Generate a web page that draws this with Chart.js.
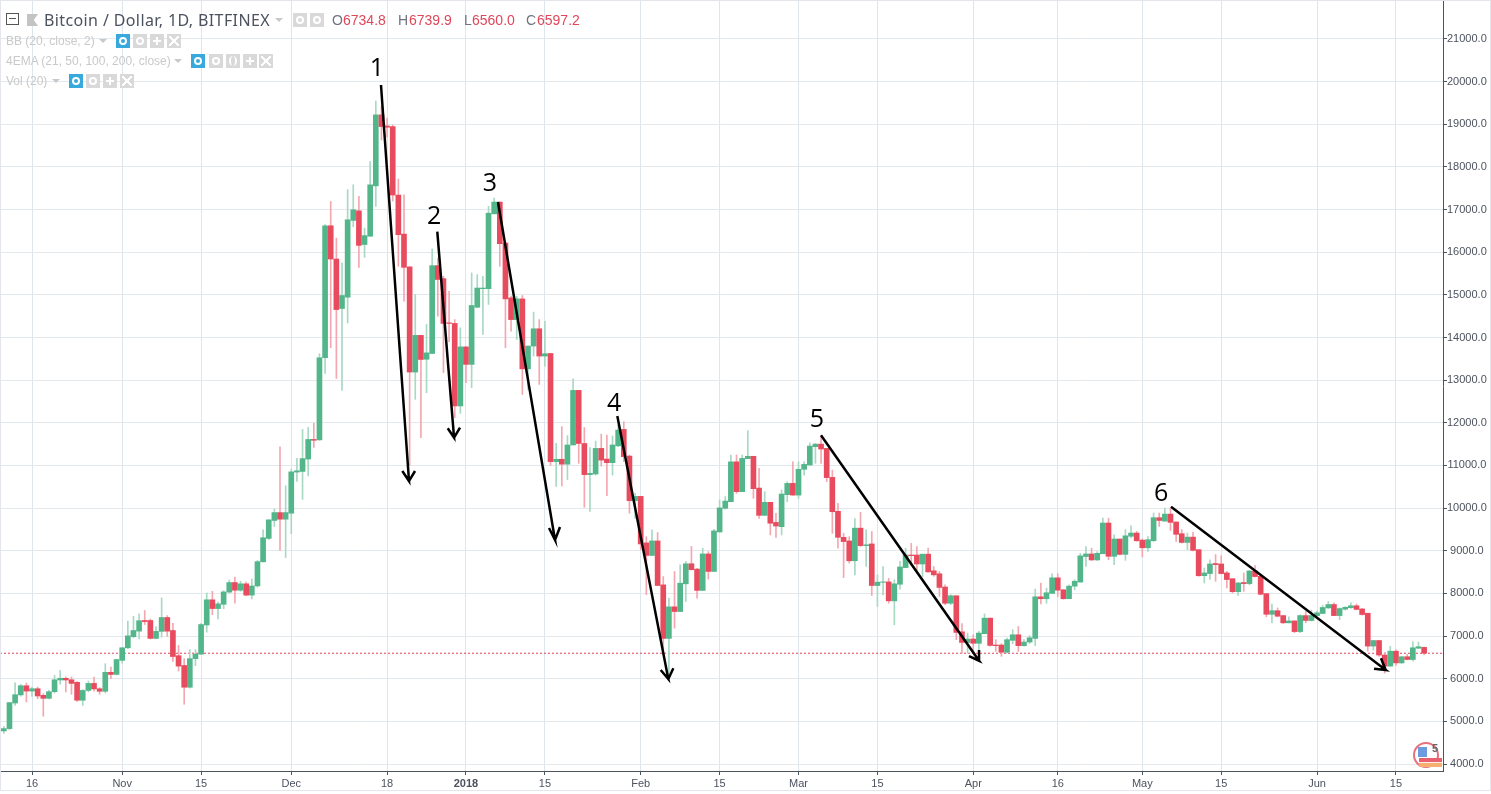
<!DOCTYPE html>
<html lang="en">
<head>
<meta charset="UTF-8" />
<title>Bitcoin / Dollar, 1D, BITFINEX</title>
<script src="https://cdn.jsdelivr.net/npm/chart.js"></script>
<style>
*, *::after { box-sizing: border-box; }
body { margin: 0; background: #fff; font-family: 'Liberation Sans', sans-serif; overflow: hidden; }
#wrap { position: relative; width: 1491px; height: 794px; }
#frame { position: absolute; left: 0; top: 0; width: 1491px; height: 791px; border: 1px solid #e3e6ea; pointer-events: none; }
canvas { position: absolute; left: 0; top: 0; }
.t { position: absolute; white-space: nowrap; line-height: 16px; }
.main { font-size: 16px; color: #4c525e; top: 12px; left: 44px; font-family: 'Noto Sans', sans-serif; letter-spacing: .38px; }
.lbl { font-size: 14px; color: #6f7480; top: 12px; }
.val { font-size: 14px; color: #e0475a; top: 12px; }
.ind { font-size: 12px; color: #c9c9c9; left: 6px; }
.ic { position: absolute; width: 14px; height: 14px; background: #d9d9d9; }
.ic.blue { background: #38a9dc; }
.ic.blue::after { content: ''; position: absolute; left: 3px; top: 3px; width: 8px; height: 8px; border: 2px solid #fff; border-radius: 50%; }
.ic.gear::after { content: ''; position: absolute; left: 3px; top: 3px; width: 8px; height: 8px; border: 2px solid #fff; border-radius: 50%; }
.ic.plus { background: linear-gradient(#fff,#fff) center/8px 2px no-repeat, linear-gradient(#fff,#fff) center/2px 8px no-repeat, #d9d9d9; }
.ic.cross::after { content: ''; position: absolute; left: 2px; top: 2px; width: 10px; height: 10px;
  background: linear-gradient(45deg, transparent 42%, #fff 42%, #fff 58%, transparent 58%), linear-gradient(-45deg, transparent 42%, #fff 42%, #fff 58%, transparent 58%); }
.ic.paren::after { content: ''; position: absolute; left: 3px; top: 2px; width: 8px; height: 10px; border-left: 2px solid #fff; border-right: 2px solid #fff; border-radius: 50%; }
.caret { position: absolute; width: 0; height: 0; border-left: 4px solid transparent; border-right: 4px solid transparent; border-top: 4px solid #c9c9c9; }
#minus { position: absolute; left: 6px; top: 13px; width: 13px; height: 12px; border: 1px solid #555; }
#minus::after { content: ''; position: absolute; left: 2px; right: 2px; top: 4px; height: 1px; background: #555; }
#flag { position: absolute; left: 27px; top: 14px; width: 11px; height: 12px; background: #c4c4c4; clip-path: polygon(0 0, 100% 0, 62% 50%, 100% 100%, 0 100%); }
#logo { position: absolute; left: 1413px; top: 742px; width: 29px; height: 26px; overflow: hidden; }
#logo .ring { position: absolute; left: 0; top: 0; width: 26px; height: 26px; border: 2px solid #e8707c; border-radius: 50%; }
#logo .blue { position: absolute; left: 5px; top: 5px; width: 9px; height: 10px; background: #6d9be0; }
#logo .stripe { position: absolute; left: 6px; top: 16px; width: 23px; height: 9px; background: linear-gradient(#e8606e 45%, #fbeee6 45%, #fbeee6 60%, #f5b070 60%); }
#logo .five { position: absolute; left: 19px; top: 1px; font-size: 11px; font-weight: bold; color: #666; line-height: 11px; }
</style>
</head>
<body>
<div id="wrap">
  <canvas id="priceChart" width="1491" height="794"></canvas>
  <div id="frame"></div>
  <div id="minus"></div><div id="flag"></div>
  <div class="t main">Bitcoin / Dollar, 1D, BITFINEX</div>
  <div class="caret" style="left:275px;top:18px"></div>
  <div class="ic gear" style="left:293px;top:13px"></div><div class="ic gear" style="left:310px;top:13px"></div>
  <div class="t lbl" style="left:332px">O</div><div class="t val" style="left:343px">6734.8</div>
  <div class="t lbl" style="left:398px">H</div><div class="t val" style="left:409px">6739.9</div>
  <div class="t lbl" style="left:464px">L</div><div class="t val" style="left:472px">6560.0</div>
  <div class="t lbl" style="left:526px">C</div><div class="t val" style="left:537px">6597.2</div>

  <div class="t ind" style="top:33px">BB (20, close, 2)</div>
  <div class="caret" style="left:99px;top:39px"></div>
  <div class="ic blue" style="left:116px;top:34px"></div><div class="ic gear" style="left:133px;top:34px"></div>
  <div class="ic plus" style="left:150px;top:34px"></div><div class="ic cross" style="left:167px;top:34px"></div>

  <div class="t ind" style="top:53px">4EMA (21, 50, 100, 200, close)</div>
  <div class="caret" style="left:174px;top:59px"></div>
  <div class="ic blue" style="left:191px;top:54px"></div><div class="ic gear" style="left:209px;top:54px"></div>
  <div class="ic paren" style="left:226px;top:54px"></div><div class="ic plus" style="left:243px;top:54px"></div><div class="ic cross" style="left:259px;top:54px"></div>

  <div class="t ind" style="top:73px">Vol (20)</div>
  <div class="caret" style="left:52px;top:79px"></div>
  <div class="ic blue" style="left:69px;top:74px"></div><div class="ic gear" style="left:86px;top:74px"></div>
  <div class="ic plus" style="left:103px;top:74px"></div><div class="ic cross" style="left:120px;top:74px"></div>

  <div id="logo"><div class="ring"></div><div class="blue"></div><div class="stripe"></div><div class="five">5</div></div>
</div>

<script>
// daily candles, first one is 5 days before the "16" tick (Oct 16 = day 0)
const firstDay = -5;
const opens = [
4775,4830,5430,5620,5835,5710,5765,5610,5540,5695,
5970,6010,5975,5915,5495,5725,5890,5765,5705,6150,
6100,6430,6725,6985,7115,7365,7365,6945,7110,7435,
7130,6540,6310,5800,6470,6575,7260,7850,7645,7745,
8030,8255,8075,8225,7960,8175,8740,9290,9710,9895,
9740,9880,10845,10860,11150,11610,11600,13525,16620,15840,
14680,14945,16745,16970,16180,16375,17555,19220,18960,18945,
17340,16425,15655,13190,14050,13490,13625,15685,15380,14345,
14330,12395,13780,13370,14710,15145,15145,16900,17175,16215,
14930,14420,14905,13265,13800,14205,13565,13625,11090,11145,
11030,11480,12760,11515,10785,10800,11400,11150,11065,11460,
11845,11220,10175,10275,9185,8890,9230,8200,6945,7685,
7575,8225,8695,8570,8070,8925,8515,9440,9995,10150,
11085,10385,11160,11215,10470,9830,10135,9665,9565,10315,
10580,10305,10910,11010,11440,11500,11400,10720,9925,9315,
9230,8765,9530,9120,9160,8185,8260,8270,7825,8215,
8605,8900,8900,8690,8920,8530,8460,8150,7770,7945,
7100,6850,6930,6830,7055,7420,6790,6790,6620,6900,
7030,6775,6860,6945,7920,7875,8000,8365,8085,7875,
8170,8265,8865,8925,8785,8930,9650,8870,9275,8915,
9340,9415,9250,9070,9235,9775,9695,9860,9675,9400,
9195,9320,9025,8415,8465,8700,8690,8480,8345,8040,
8255,8230,8525,8400,7995,7510,7595,7480,7310,7355,
7105,7480,7365,7480,7530,7660,7740,7480,7630,7665,
7710,7635,7535,6765,6895,6555,6295,6645,6370,6515,
6450,6715,6734.8];
const highs = [
4880,5440,5905,5870,5900,5805,5805,5650,5725,6080,
6195,6040,6040,5930,5745,5945,6040,5790,6350,6270,
6460,6730,7350,7465,7520,7600,7400,7225,7895,7480,
7300,6780,6470,6680,6680,7300,8010,8050,7795,8065,
8315,8380,8285,8265,8340,8770,9490,9725,9980,11435,
10525,10915,11170,11845,11890,11990,13620,16645,17190,16330,
15750,17465,17580,17310,16565,18125,19545,19415,19140,18985,
17715,17345,15670,15005,14050,14305,16075,15860,15435,15080,
14420,14225,13780,15515,15475,15435,17075,17270,17175,16215,
14970,14970,14985,13800,14595,14420,14380,13625,11520,11910,
11700,13030,12760,11890,11420,11570,11735,11710,11690,11945,
12025,11245,10345,10275,9330,9490,9425,8395,7890,8515,
8670,8750,9100,8590,9060,8980,9505,10190,10270,11245,
11245,11245,11815,11215,10930,10385,10135,9880,10425,10620,
11085,11085,11085,11530,11515,11690,11400,10890,10110,9410,
9330,9755,9900,9490,9450,8435,8630,8355,8320,8750,
9060,9175,9095,8920,9060,8630,8515,8200,7970,7945,
7290,7070,7030,7110,7520,7420,6915,6820,6955,7150,
7225,6915,7010,8100,8240,8125,8460,8460,8085,8200,
8320,8940,9100,9060,8980,9765,9765,9375,9275,9495,
9585,9455,9275,9335,9885,9885,10000,10000,9675,9495,
9415,9430,9025,8595,8790,8910,8885,8520,8345,8260,
8480,8540,8650,8400,7995,7750,7660,7480,7450,7355,
7500,7580,7610,7585,7715,7810,7780,7660,7690,7780,
7750,7650,7535,6900,6900,6610,6760,6680,6520,6570,
6865,6860,6739.9];
const lows = [
4720,4800,5375,5590,5455,5585,5530,5120,5525,5665,
5870,5690,5635,5470,5375,5690,5710,5635,5665,6000,
6090,6365,6700,6960,6935,7270,6930,6930,6975,6990,
6405,6180,5400,5780,6305,6570,7090,7500,7400,7640,
8005,7770,8050,7945,7870,8145,8740,9260,9570,9010,
8840,9400,10625,10205,10755,11420,11590,13160,13760,13040,
12760,14340,16600,15645,15880,16375,17075,18630,18700,17200,
15670,14850,11000,12550,11650,12705,13625,14500,13175,13900,
12120,12220,12940,12825,14695,14070,14775,16900,15670,13760,
14150,13955,12665,12780,13565,12900,13330,11000,10510,10520,
10670,11480,11050,10020,9920,10775,10985,10290,10775,11440,
11090,9880,9760,9020,7970,8890,8185,6560,6055,7185,
7575,7810,8555,7890,8070,8335,8515,9440,9975,10150,
10345,10385,11160,10230,9760,9830,9370,9315,9370,10150,
10305,10230,10775,11010,11050,11050,10620,9410,9060,8370,
8710,8435,9100,8630,7950,7695,7965,7770,7265,8100,
8605,8650,8475,8395,8490,8400,7930,7735,7735,6915,
6600,6600,6640,6600,7055,6760,6640,6525,6605,6820,
6640,6760,6825,6775,7755,7770,8000,7925,7865,7875,
8085,8265,8630,8770,8770,8930,8790,8675,8900,8775,
9300,9220,8855,8985,9220,9570,9695,9475,9220,9180,
9025,8995,8400,8245,8325,8285,8455,8130,8010,7950,
8050,8200,8385,7965,7450,7310,7450,7295,7310,7080,
7080,7310,7350,7465,7530,7645,7480,7385,7610,7650,
7615,7490,6650,6670,6520,6130,6295,6310,6360,6440,
6410,6710,6560];
const closes = [
4830,5440,5625,5835,5710,5765,5595,5540,5695,5975,
6010,5970,5890,5495,5725,5890,5760,5705,6150,6100,
6450,6725,7005,7130,7360,7340,6945,7110,7435,7115,
6520,6295,5800,6470,6575,7270,7850,7645,7755,8035,
8255,8075,8225,7960,8175,8745,9305,9725,9895,9740,
9895,10850,10875,11160,11610,11590,13525,16620,15840,14655,
14985,16760,16995,16160,16390,17580,19220,18945,18930,17340,
16410,15645,13190,14050,13485,13640,15685,15360,14330,14330,
12395,13780,13370,14750,15160,15160,16915,17175,16200,14905,
14420,14905,13265,13800,14205,13565,13620,11090,11145,11030,
11480,12760,11515,10785,10815,11400,11125,11065,11480,11830,
11205,10175,10275,9160,8890,9230,8185,6945,7685,7575,
8240,8695,8555,8070,8925,8515,9465,10005,10165,11085,
10385,11165,11215,10455,9830,10135,9645,9580,10330,10580,
10305,10910,11025,11455,11500,11385,10715,9915,9315,9215,
8765,9530,9120,9140,8185,8265,8270,7825,8225,8620,
8900,8885,8690,8920,8505,8435,8140,7770,7945,7085,
6850,6930,6830,7070,7420,6780,6775,6620,6915,7030,
6775,6860,6960,7920,7875,8015,8365,8075,7875,8170,
8285,8880,8925,8785,8940,9650,8870,9275,8915,9350,
9415,9235,9070,9260,9775,9710,9860,9665,9385,9195,
9320,9010,8415,8480,8690,8675,8465,8325,8040,8245,
8230,8525,8395,7980,7510,7595,7465,7310,7355,7105,
7480,7365,7480,7545,7670,7740,7480,7645,7675,7710,
7625,7505,6765,6895,6555,6295,6645,6370,6515,6450,
6725,6750,6597.2];

const tickDays = [0,16,30,46,63,77,91,108,122,136,150,167,182,197,211,228,242];
const tickLabels = ['16','Nov','15','Dec','18','2018','15','Feb','15','Mar','15','Apr','16','May','15','Jun','15'];
const priceTicks = [4000,5000,6000,7000,8000,9000,10000,11000,12000,13000,14000,15000,16000,17000,18000,19000,20000,21000];
const lastClose = 6597.2;

// hand drawn arrows: start, tip, head left, tip, head right (day, price)
const arrowDays = [
  [61.92,66.89,65.70,66.89,67.96],
  [71.91,74.88,73.76,74.88,75.94],
  [82.68,92.80,91.73,92.80,93.68],
  [103.85,112.90,111.55,112.90,113.79],
  [139.99,168.03,166.25,168.03,168.03],
  [202.09,240.19,238.11,240.19,239.35]
];
const arrowPrices = [
  [19921,10635,10870,10635,10870],
  [16481,11651,11871,11651,11885],
  [17177,9252,9533,9252,9557],
  [12160,5993,6204,5993,6244],
  [11707,6422,6532,6422,6673],
  [10033,6204,6234,6204,6478]
];
const noteTexts = ['1','2','3','4','5','6'];
const noteDays = [61.21,71.33,81.26,103.27,139.28,200.32];
const notePrices = [20300,16825,17600,12440,12065,10330];

const GREEN = '#53b68a', RED = '#e94b5e';
const GREEN_WICK = '#a9d8c3', RED_WICK = '#f3a8b0';
const AXIS = '#4c525e', GRID = '#e3e8ed';

const days = opens.map((_, i) => firstDay + i);
const isUp = i => closes[i] >= opens[i];

const datasets = [
  // first in list is painted last
  ...arrowDays.map((xs, a) => ({
    type: 'line', order: 0,
    data: xs.map((x, j) => ({ x, y: arrowPrices[a][j] })),
    borderColor: '#000', borderWidth: 2.5, pointRadius: 0, tension: 0, fill: false
  })),
  {
    type: 'bar', order: 1, barThickness: 5, grouped: false,
    data: days.map((d, i) => ({ x: d, y: [opens[i], closes[i]] })),
    backgroundColor: days.map((d, i) => isUp(i) ? GREEN : RED)
  },
  {
    type: 'bar', order: 2, barThickness: 1, grouped: false,
    data: days.map((d, i) => ({ x: d, y: [lows[i], highs[i]] })),
    backgroundColor: days.map((d, i) => isUp(i) ? GREEN_WICK : RED_WICK)
  },
  {
    type: 'line', order: 3,
    data: [{ x: -5.68, y: lastClose }, { x: 250.35, y: lastClose }],
    borderColor: '#e0405a', borderWidth: 1, borderDash: [2, 2], pointRadius: 0, fill: false
  }
];

const noteLabels = {
  id: 'noteLabels',
  afterDatasetsDraw(chart) {
    const { ctx, scales } = chart;
    ctx.save();
    ctx.fillStyle = '#000';
    ctx.font = "25px 'Open Sans', sans-serif";
    ctx.textAlign = 'center';
    ctx.textBaseline = 'middle';
    noteTexts.forEach((t, i) => ctx.fillText(t, scales.x.getPixelForValue(noteDays[i]), scales.y.getPixelForValue(notePrices[i])));
    ctx.restore();
  }
};

new Chart(document.getElementById('priceChart'), {
  type: 'bar',
  data: { datasets },
  options: {
    responsive: false,
    animation: false,
    devicePixelRatio: 1,
    layout: { padding: { top: 1, left: 0, right: 0, bottom: 0 } },
    plugins: { legend: { display: false }, tooltip: { enabled: false } },
    scales: {
      x: {
        type: 'linear', offset: false, min: -5.68, max: 250.35,
        afterBuildTicks: s => { s.ticks = tickDays.map(v => ({ value: v })); },
        afterFit: s => { s.height = 23; s.paddingLeft = 0; s.paddingRight = 0; },
        grid: { offset: false, color: '#dde6ec', tickColor: AXIS, tickLength: 4 },
        border: { color: AXIS },
        ticks: {
          autoSkip: false, maxRotation: 0, color: AXIS, padding: 2,
          font: c => ({ family: "'Liberation Sans', sans-serif", size: 11, weight: tickLabels[c.index] === '2018' ? 'bold' : 'normal' }),
          callback: (v, i) => tickLabels[i]
        }
      },
      y: {
        type: 'linear', position: 'right', min: 3836, max: 21890,
        afterBuildTicks: s => { s.ticks = priceTicks.map(v => ({ value: v })); },
        afterFit: s => { s.width = 48; s.paddingTop = 0; s.paddingBottom = 0; },
        grid: { color: GRID, tickColor: AXIS, tickLength: 4 },
        border: { color: AXIS },
        ticks: {
          autoSkip: false, color: AXIS, padding: 0, crossAlign: 'center',
          font: { family: "'Liberation Sans', sans-serif", size: 11 },
          callback: v => v.toFixed(1)
        }
      }
    }
  },
  plugins: [noteLabels]
});
</script>
</body>
</html>
